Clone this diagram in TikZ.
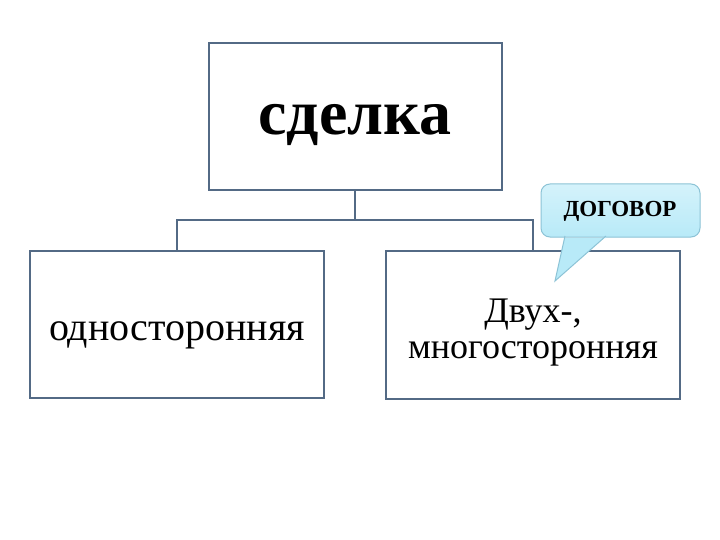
\documentclass[tikz,border=0pt]{standalone}
\usepackage{fontspec}
\setmainfont{Liberation Serif}
\definecolor{boxline}{HTML}{536A85}
\definecolor{callfill}{HTML}{B8EAF8}
\definecolor{callline}{HTML}{8CC3D6}
\tikzset{
  box/.style={draw=boxline, line width=1.5pt, fill=white, minimum width=#1, inner sep=0pt},
  conn/.style={draw=boxline, line width=1.5pt},
  lbl/.style={anchor=base, inner sep=0pt},
}
\begin{document}
\begin{tikzpicture}[x=1pt,y=-1pt]
\useasboundingbox (0,0) rectangle (720,540);
\fill[white] (0,0) rectangle (720,540);
\node[box=293pt, minimum height=147pt] (top) at (355.5,116.5) {};
\node[box=294pt, minimum height=147pt] (left) at (177,324.5) {};
\node[box=294pt, minimum height=148pt] (right) at (533,325) {};
\node[lbl, font=\fontsize{64}{68}\selectfont\bfseries] (t1) at (355,135) {сделка};
\node[lbl, font=\fontsize{40}{44}\selectfont] (t2) at (177,340) {односторонняя};
\node[lbl, font=\fontsize{36}{40}\selectfont] (t3) at (533,322) {Двух-,};
\node[lbl, font=\fontsize{36}{40}\selectfont] (t4) at (533,358) {многосторонняя};
\coordinate (mid) at (355,220);
\draw[conn] (top.south -| mid) -- (mid);
\draw[conn] (left.north) |- (mid) -| (right.north);
\node[draw=callline, line width=1pt, top color=callfill!60, bottom color=callfill, rounded corners=9pt,
      minimum width=159pt, minimum height=53pt, inner sep=0pt] (call) at (620.5,210.5) {};
\coordinate (tip) at (555,281);
\coordinate (b1) at (565,236);
\coordinate (b2) at (606,236);
\fill[callfill] (b1) -- (tip) -- (b2) -- ([yshift=-2pt]b2) -- ([yshift=-2pt]b1) -- cycle;
\draw[callline, line width=1pt] (b1) -- (tip) -- (b2);
\node[lbl, font=\fontsize{23}{25}\selectfont\bfseries] (t5) at (620,217) {ДОГОВОР};
\end{tikzpicture}
\end{document}
